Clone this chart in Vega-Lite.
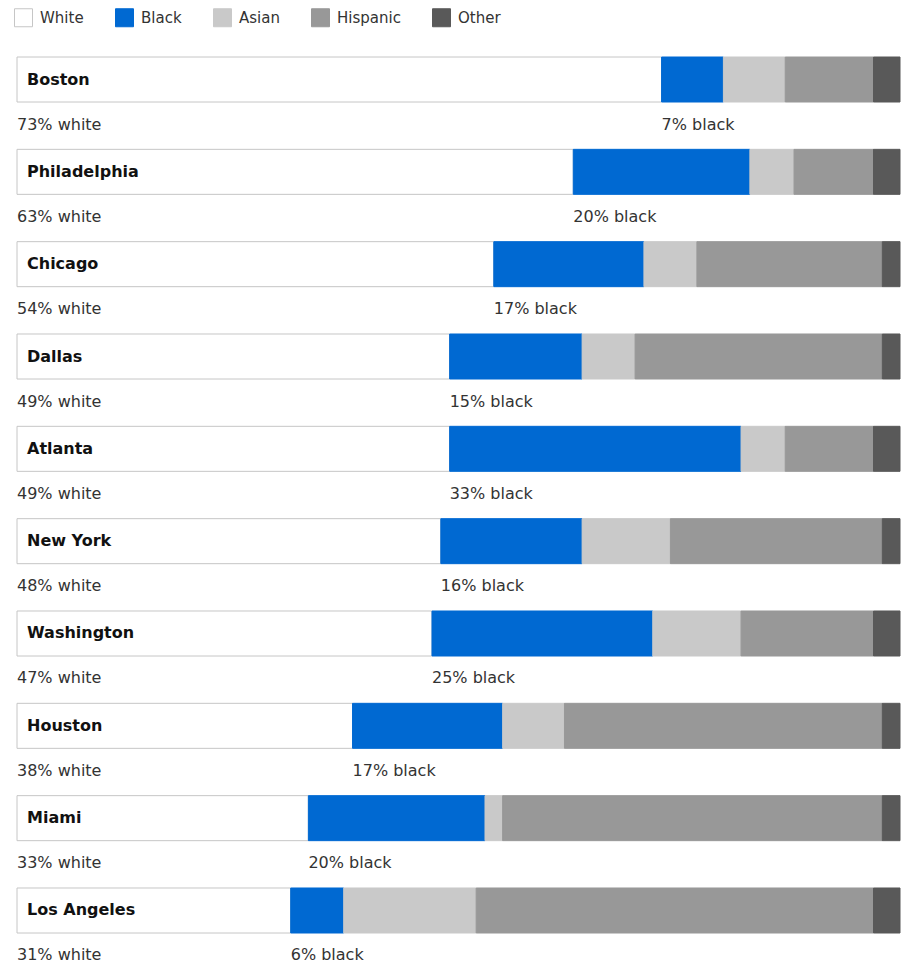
{
  "$schema": "https://vega.github.io/schema/vega-lite/v6.json",
  "width": 883,
  "height": 876,
  "autosize": {"type": "none"},
  "padding": {"left": 17, "top": 57, "right": 2, "bottom": 33},
  "background": "#ffffff",
  "config": {"view": {"stroke": null}, "font": "DejaVu Sans"},
  "data": {
    "values": [
      {"city": "Boston", "race": "White", "pct": 73},
      {"city": "Boston", "race": "Black", "pct": 7},
      {"city": "Boston", "race": "Asian", "pct": 7},
      {"city": "Boston", "race": "Hispanic", "pct": 10},
      {"city": "Boston", "race": "Other", "pct": 3},
      {"city": "Philadelphia", "race": "White", "pct": 63},
      {"city": "Philadelphia", "race": "Black", "pct": 20},
      {"city": "Philadelphia", "race": "Asian", "pct": 5},
      {"city": "Philadelphia", "race": "Hispanic", "pct": 9},
      {"city": "Philadelphia", "race": "Other", "pct": 3},
      {"city": "Chicago", "race": "White", "pct": 54},
      {"city": "Chicago", "race": "Black", "pct": 17},
      {"city": "Chicago", "race": "Asian", "pct": 6},
      {"city": "Chicago", "race": "Hispanic", "pct": 21},
      {"city": "Chicago", "race": "Other", "pct": 2},
      {"city": "Dallas", "race": "White", "pct": 49},
      {"city": "Dallas", "race": "Black", "pct": 15},
      {"city": "Dallas", "race": "Asian", "pct": 6},
      {"city": "Dallas", "race": "Hispanic", "pct": 28},
      {"city": "Dallas", "race": "Other", "pct": 2},
      {"city": "Atlanta", "race": "White", "pct": 49},
      {"city": "Atlanta", "race": "Black", "pct": 33},
      {"city": "Atlanta", "race": "Asian", "pct": 5},
      {"city": "Atlanta", "race": "Hispanic", "pct": 10},
      {"city": "Atlanta", "race": "Other", "pct": 3},
      {"city": "New York", "race": "White", "pct": 48},
      {"city": "New York", "race": "Black", "pct": 16},
      {"city": "New York", "race": "Asian", "pct": 10},
      {"city": "New York", "race": "Hispanic", "pct": 24},
      {"city": "New York", "race": "Other", "pct": 2},
      {"city": "Washington", "race": "White", "pct": 47},
      {"city": "Washington", "race": "Black", "pct": 25},
      {"city": "Washington", "race": "Asian", "pct": 10},
      {"city": "Washington", "race": "Hispanic", "pct": 15},
      {"city": "Washington", "race": "Other", "pct": 3},
      {"city": "Houston", "race": "White", "pct": 38},
      {"city": "Houston", "race": "Black", "pct": 17},
      {"city": "Houston", "race": "Asian", "pct": 7},
      {"city": "Houston", "race": "Hispanic", "pct": 36},
      {"city": "Houston", "race": "Other", "pct": 2},
      {"city": "Miami", "race": "White", "pct": 33},
      {"city": "Miami", "race": "Black", "pct": 20},
      {"city": "Miami", "race": "Asian", "pct": 2},
      {"city": "Miami", "race": "Hispanic", "pct": 43},
      {"city": "Miami", "race": "Other", "pct": 2},
      {"city": "Los Angeles", "race": "White", "pct": 31},
      {"city": "Los Angeles", "race": "Black", "pct": 6},
      {"city": "Los Angeles", "race": "Asian", "pct": 15},
      {"city": "Los Angeles", "race": "Hispanic", "pct": 45},
      {"city": "Los Angeles", "race": "Other", "pct": 3}
    ]
  },
  "transform": [
    {"calculate": "indexof(['White','Black','Asian','Hispanic','Other'], datum.race)", "as": "ord"},
    {"stack": "pct", "groupby": ["city"], "sort": [{"field": "ord", "order": "ascending"}], "as": ["x0", "x1"]},
    {"calculate": "datum.pct + '% ' + lower(datum.race)", "as": "label"}
  ],
  "encoding": {
    "y": {
      "field": "city",
      "type": "nominal",
      "sort": ["Boston", "Philadelphia", "Chicago", "Dallas", "Atlanta", "New York", "Washington", "Houston", "Miami", "Los Angeles"],
      "scale": {"paddingInner": 0.5125, "paddingOuter": 0},
      "axis": null
    }
  },
  "layer": [
    {
      "mark": {"type": "bar", "strokeWidth": 1},
      "encoding": {
        "x": {"field": "x0", "type": "quantitative", "scale": {"domain": [0, 100]}, "axis": null},
        "x2": {"field": "x1"},
        "color": {
          "field": "race",
          "type": "nominal",
          "sort": ["White", "Black", "Asian", "Hispanic", "Other"],
          "scale": {
            "domain": ["White", "Black", "Asian", "Hispanic", "Other"],
            "range": ["#ffffff", "#0069d2", "#c9c9c9", "#989898", "#595959"]
          },
          "legend": {
            "title": null,
            "orient": "none",
            "legendX": -3,
            "legendY": -49,
            "direction": "horizontal",
            "columns": 5,
            "columnPadding": 29,
            "padding": 0,
            "symbolType": "square",
            "symbolSize": 324,
            "symbolStrokeWidth": 1,
            "symbolOpacity": 1,
            "labelFont": "DejaVu Sans",
            "labelFontSize": 15,
            "labelColor": "#333333",
            "labelOffset": 7
          }
        },
        "stroke": {
          "field": "race",
          "type": "nominal",
          "sort": ["White", "Black", "Asian", "Hispanic", "Other"],
          "scale": {
            "domain": ["White", "Black", "Asian", "Hispanic", "Other"],
            "range": ["#c6c6c6", "#0069d2", "#c9c9c9", "#989898", "#595959"]
          },
          "legend": null
        }
      }
    },
    {
      "transform": [{"filter": "datum.race === 'White'"}],
      "mark": {"type": "text", "align": "left", "baseline": "middle", "dx": 10, "font": "DejaVu Sans", "fontSize": 16, "fontWeight": "bold", "color": "#111111"},
      "encoding": {
        "x": {"field": "x0", "type": "quantitative"},
        "text": {"field": "city"}
      }
    },
    {
      "transform": [{"filter": "datum.race === 'White' || datum.race === 'Black'"}],
      "mark": {"type": "text", "align": "left", "baseline": "middle", "dy": 45, "font": "DejaVu Sans", "fontSize": 16, "color": "#333333"},
      "encoding": {
        "x": {"field": "x0", "type": "quantitative"},
        "text": {"field": "label"}
      }
    }
  ]
}
